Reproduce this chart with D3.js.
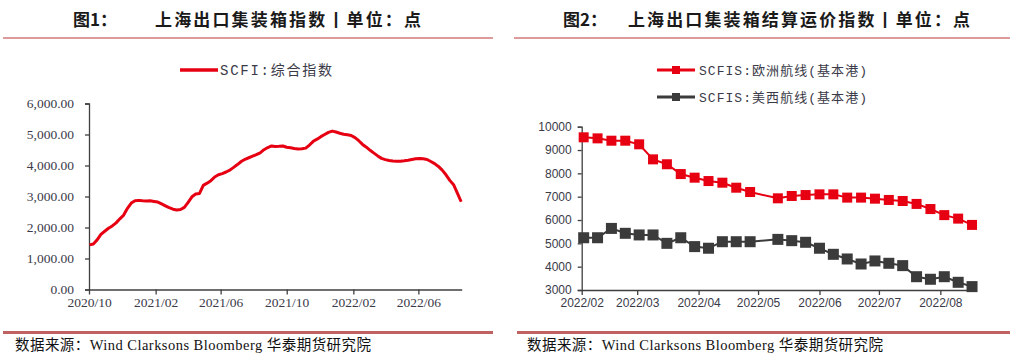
<!DOCTYPE html>
<html>
<head>
<meta charset="utf-8">
<script src="https://cdn.jsdelivr.net/npm/d3@7"></script>
<style>
  body { margin: 0; background: #fff; }
  svg { display: block; }
</style>
</head>
<body>
<div class="chart-container"></div>
<script>
var w = 1013;
var h = 359;

// fig 1: SCFI composite, weekly
var scfiStart = new Date(2020, 9, 2);
var scfiValues = [
  1440, 1470, 1600, 1780, 1880, 1975, 2050, 2150, 2280, 2400,
  2620, 2790, 2865, 2875, 2860, 2855, 2860, 2840, 2820, 2760,
  2700, 2640, 2590, 2565, 2580, 2650, 2810, 2990, 3080, 3100,
  3360, 3430, 3510, 3630, 3700, 3740, 3790, 3850, 3940, 4030,
  4130, 4200, 4250, 4300, 4350, 4410, 4510, 4580, 4630, 4615,
  4620, 4630, 4590, 4570, 4550, 4535, 4540, 4560, 4660, 4780,
  4850, 4930, 5000, 5070, 5110, 5080, 5040, 5010, 4990, 4970,
  4900, 4800, 4680, 4590, 4490, 4400, 4310, 4230, 4190, 4160,
  4145, 4135, 4135, 4150, 4170, 4195, 4215, 4225, 4215, 4195,
  4130, 4060, 3970, 3850, 3700, 3520, 3380, 3110, 2830
];
var leftTicks = ["2020/10", "2021/02", "2021/06", "2021/10", "2022/02", "2022/06"];
var leftYTicks = [0, 1000, 2000, 3000, 4000, 5000, 6000];

// fig 2: SCFIS, europe and us west
var scfisDates = [
  "2022-02-02", "2022-02-09", "2022-02-16", "2022-02-23", "2022-03-02", "2022-03-09",
  "2022-03-16", "2022-03-23", "2022-03-30", "2022-04-06", "2022-04-13", "2022-04-20",
  "2022-04-27", "2022-05-11", "2022-05-18", "2022-05-25", "2022-06-01", "2022-06-08",
  "2022-06-15", "2022-06-22", "2022-06-29", "2022-07-06", "2022-07-13", "2022-07-20",
  "2022-07-27", "2022-08-03", "2022-08-10", "2022-08-17"
];
var europe = [
  9545, 9500, 9400, 9400, 9245, 8600, 8390, 7970, 7815, 7670, 7600, 7385, 7200,
  6930, 7030, 7070, 7100, 7100, 6960, 6960, 6915, 6860, 6815, 6690, 6470, 6210, 6060, 5790
];
var usWest = [
  5240, 5240, 5640, 5430, 5360, 5360, 5000, 5240, 4860, 4790, 5070, 5070, 5070,
  5170, 5115, 5045, 4790, 4530, 4330, 4115, 4245, 4145, 4045, 3570, 3460, 3570, 3330, 3145
];
var rightTicks = ["2022/02", "2022/03", "2022/04", "2022/05", "2022/06", "2022/07", "2022/08"];
var rightYTicks = [3000, 4000, 5000, 6000, 7000, 8000, 9000, 10000];

var red = "#e60012";
var grey = "#3b3b3b";
var axisColor = "#3f3f3f";
var labelColor = "#3a3a48";
var parse = d3.timeParse("%Y-%m-%d");
var ym = d3.timeParse("%Y/%m");

var svg = d3.select(".chart-container")
  .append("svg")
  .attr("width", w)
  .attr("height", h);

svg.append("rect").attr("width", w).attr("height", h).attr("fill", "#fff");

// ---- headers and footers
function header(x0, x1, num, numX, title, titleX, titleW) {
  svg.append("text")
    .attr("x", numX).attr("y", 26)
    .attr("font-family", "Noto Sans CJK SC")
    .attr("font-weight", "bold")
    .attr("font-size", 17)
    .attr("fill", "#1a1a1a")
    .text("图" + num + "：");
  svg.append("text")
    .attr("x", titleX).attr("y", 26)
    .attr("font-family", "Noto Sans CJK SC")
    .attr("font-weight", "bold")
    .attr("font-size", 17)
    .attr("textLength", titleW)
    .attr("lengthAdjust", "spacing")
    .attr("fill", "#1a1a1a")
    .text(title);
  svg.append("line")
    .attr("x1", x0).attr("x2", x1).attr("y1", 38).attr("y2", 38)
    .attr("stroke", "#d27878").attr("stroke-width", 1.5);
}
header(3, 493, 1, 73, "上海出口集装箱指数丨单位：点", 155, 266);
header(514, 1010, 2, 563, "上海出口集装箱结算运价指数丨单位：点", 628, 342);

function footer(x0, x1, tx) {
  svg.append("line")
    .attr("x1", x0).attr("x2", x1).attr("y1", 332.5).attr("y2", 332.5)
    .attr("stroke", "#c06262").attr("stroke-width", 3);
  svg.append("text")
    .attr("x", tx).attr("y", 349.5)
    .attr("font-family", "Liberation Serif, Noto Sans CJK SC")
    .attr("font-size", 14.5)
    .attr("textLength", 356)
    .attr("lengthAdjust", "spacing")
    .attr("fill", "#111")
    .text("数据来源：Wind Clarksons Bloomberg 华泰期货研究院");
}
footer(3, 493, 15);
footer(517, 1010, 527);

// ---- fig 1
var x1 = d3.scaleTime()
  .domain([new Date(2020, 9, 1), new Date(2022, 7, 20)])
  .range([89, 461.7]);
var y1 = d3.scaleLinear().domain([0, 6000]).range([289.5, 103.5]);

var g1 = svg.append("g");

g1.append("g")
  .attr("transform", "translate(89,0)")
  .call(d3.axisLeft(y1).tickValues(leftYTicks).tickFormat(d3.format(",.2f")).tickSize(4).tickPadding(11))
  .call(styleAxis, "Liberation Serif", 13.5);

g1.append("g")
  .attr("transform", "translate(0,289.5)")
  .call(d3.axisBottom(x1).tickValues(leftTicks.map(function (t) { return ym(t); }))
    .tickFormat(d3.timeFormat("%Y/%m")).tickSize(5).tickPadding(3).tickSizeOuter(0))
  .call(styleAxis, "Liberation Serif", 13.5);

var scfi = scfiValues.map(function (v, i) {
  return { date: d3.timeDay.offset(scfiStart, 7 * i), value: v };
});

g1.append("path")
  .datum(scfi)
  .attr("fill", "none")
  .attr("stroke", red)
  .attr("stroke-width", 3)
  .attr("stroke-linejoin", "round")
  .attr("d", d3.line().x(function (d) { return x1(d.date); }).y(function (d) { return y1(d.value); }));

// legend 1
g1.append("line").attr("x1", 180).attr("x2", 218).attr("y1", 70).attr("y2", 70)
  .attr("stroke", red).attr("stroke-width", 3.5);
g1.append("text").attr("x", 220).attr("y", 75)
  .attr("font-family", "Liberation Mono, Noto Sans CJK SC")
  .attr("font-size", 14)
  .attr("textLength", 112)
  .attr("lengthAdjust", "spacing")
  .attr("fill", labelColor)
  .text("SCFI:综合指数");

// ---- fig 2
var x2 = d3.scaleTime()
  .domain([new Date(2022, 1, 1), new Date(2022, 7, 19)])
  .range([581.7, 976]);
var y2 = d3.scaleLinear().domain([3000, 10000]).range([290, 126.7]);

var g2 = svg.append("g");

g2.append("g")
  .attr("transform", "translate(581.7,0)")
  .call(d3.axisLeft(y2).tickValues(rightYTicks).tickFormat(d3.format("d")).tickSize(4).tickPadding(6))
  .call(styleAxis, "Liberation Sans", 12);

g2.append("g")
  .attr("transform", "translate(0,290)")
  .call(d3.axisBottom(x2).tickValues(rightTicks.map(function (t) { return ym(t); }))
    .tickFormat(d3.timeFormat("%Y/%m")).tickSize(5).tickPadding(3).tickSizeOuter(0))
  .call(styleAxis, "Liberation Sans", 12);

var series = [
  { name: "SCFIS:欧洲航线(基本港)", values: europe, color: red, size: 10, ly: 70 },
  { name: "SCFIS:美西航线(基本港)", values: usWest, color: grey, size: 11, ly: 97 }
];

var line2 = d3.line()
  .x(function (d) { return x2(d.date); })
  .y(function (d) { return y2(d.value); });

series.forEach(function (s) {
  var pts = s.values.map(function (v, i) { return { date: parse(scfisDates[i]), value: v }; });
  g2.append("path")
    .datum(pts)
    .attr("fill", "none")
    .attr("stroke", s.color)
    .attr("stroke-width", 2)
    .attr("d", line2);
  g2.selectAll(null)
    .data(pts)
    .enter()
    .append("rect")
    .attr("x", function (d) { return x2(d.date) - s.size / 2; })
    .attr("y", function (d) { return y2(d.value) - s.size / 2; })
    .attr("width", s.size)
    .attr("height", s.size)
    .attr("fill", s.color);

  // legend
  g2.append("line").attr("x1", 657).attr("x2", 695).attr("y1", s.ly).attr("y2", s.ly)
    .attr("stroke", s.color).attr("stroke-width", 3);
  g2.append("rect").attr("x", 672).attr("y", s.ly - 4).attr("width", 8).attr("height", 8)
    .attr("fill", s.color);
  g2.append("text").attr("x", 699).attr("y", s.ly + 4.5)
    .attr("font-family", "Liberation Mono, Noto Sans CJK SC")
    .attr("font-size", 13)
    .attr("textLength", 168)
    .attr("lengthAdjust", "spacing")
    .attr("fill", labelColor)
    .text(s.name);
});

function styleAxis(sel, font, size) {
  sel.select(".domain").attr("stroke", axisColor).attr("stroke-width", 1.3);
  sel.selectAll(".tick line").attr("stroke", axisColor).attr("stroke-width", 1.3);
  sel.selectAll(".tick text")
    .attr("font-family", font)
    .attr("font-size", size)
    .attr("fill", labelColor);
}
</script>
</body>
</html>
